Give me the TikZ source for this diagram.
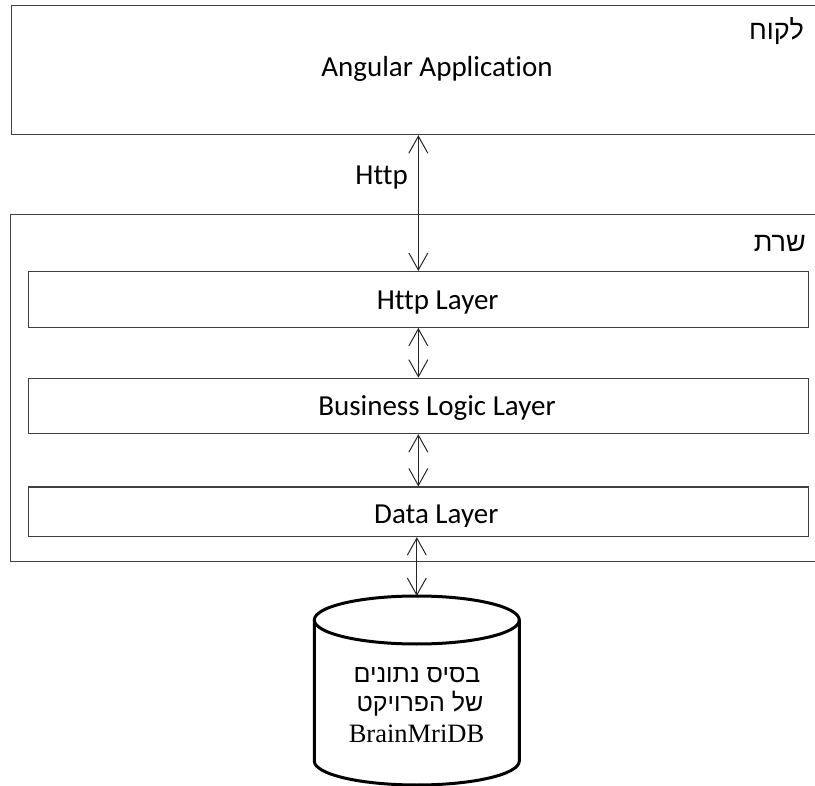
\documentclass[tikz,border=0pt]{standalone}
\usepackage{fontspec}
\usetikzlibrary{arrows.meta}
\setmainfont{Carlito}[Ligatures={NoCommon}]
\newfontfamily\hebfont[Script=Hebrew]{Liberation Sans}
\newfontfamily\seriffont{Liberation Serif}
\TeXXeTstate=1

\begin{document}
\begin{tikzpicture}[x=1pt,y=-1pt,
  frame/.style={draw=black!75, line width=1.2pt, inner sep=0pt, anchor=north west},
  layer/.style={frame, minimum width=780.5pt},
  link/.style={draw=black!85, line width=1pt,
    {Straight Barb[length=17pt,width=19pt]}-{Straight Barb[length=17pt,width=19pt]}},
  lbl/.style={font=\fontsize{29}{34}\selectfont, inner sep=0pt, anchor=base},
  heblbl/.style={font=\hebfont\fontsize{27}{32}\selectfont, inner sep=0pt, anchor=base east},
  dbtxt/.style={inner sep=0pt, anchor=base},
]
\clip (0,0) rectangle (815,786);

% client and server frames (open to the right edge)
\node[frame, minimum width=820pt, minimum height=129.3pt] (client) at (10.5,4.7) {};
\node[frame, minimum width=820pt, minimum height=347pt] (server) at (10,214) {};

% server layers
\node[layer, minimum height=55.7pt] (httpl) at (27.5,271) {};
\node[layer, minimum height=55.3pt] (biz) at (27.5,377.7) {};
\node[layer, minimum height=49.5pt] (data) at (27.5,486.5) {};

% labels
\node[lbl] (angtxt) at (437,77) {Angular Application};
\node[heblbl] (clienttxt) at (804,40) {\beginR לקוח\endR};
\node[lbl, anchor=base east] (httptxt) at (408,185) {Http};
\node[heblbl] (servertxt) at (806,252) {\beginR שרת\endR};
\node[lbl] (httpltxt) at (437.7,309.3) {Http Layer};
\node[lbl] (biztxt) at (437,415.7) {Business Logic Layer};
\begin{scope}
  \clip (27.5,486.5) rectangle (808,526.5);
  \node[lbl] (datatxt) at (436.3,524) {Data Layer};
\end{scope}

% database cylinder
\coordinate (dbtop) at (416.8,596);
\draw[line width=3pt] (416.8,620) ellipse [x radius=102.5, y radius=24];
\draw[line width=3pt, line join=round] (314.3,620) -- (314.3,761)
  arc[start angle=180, end angle=0, x radius=102.5, y radius=24] -- (519.3,620);
\node[dbtxt, font=\hebfont\fontsize{25}{30}\selectfont] (db1) at (417,682) {\beginR בסיס נתונים\endR};
\node[dbtxt, font=\hebfont\fontsize{25}{30}\selectfont] (db2) at (420,711) {\beginR של הפרויקט\endR};
\node[dbtxt, font=\seriffont\fontsize{26.5}{30}\selectfont] (db3) at (416.5,742) {BrainMriDB};

% connectors
\draw[link] (httpl.north |- client.south) -- (httpl.north);
\draw[link] (httpl.south) -- (biz.north);
\draw[link] (biz.south) -- (data.north);
\draw[link] (dbtop |- data.south) -- (dbtop);
\end{tikzpicture}
\end{document}
